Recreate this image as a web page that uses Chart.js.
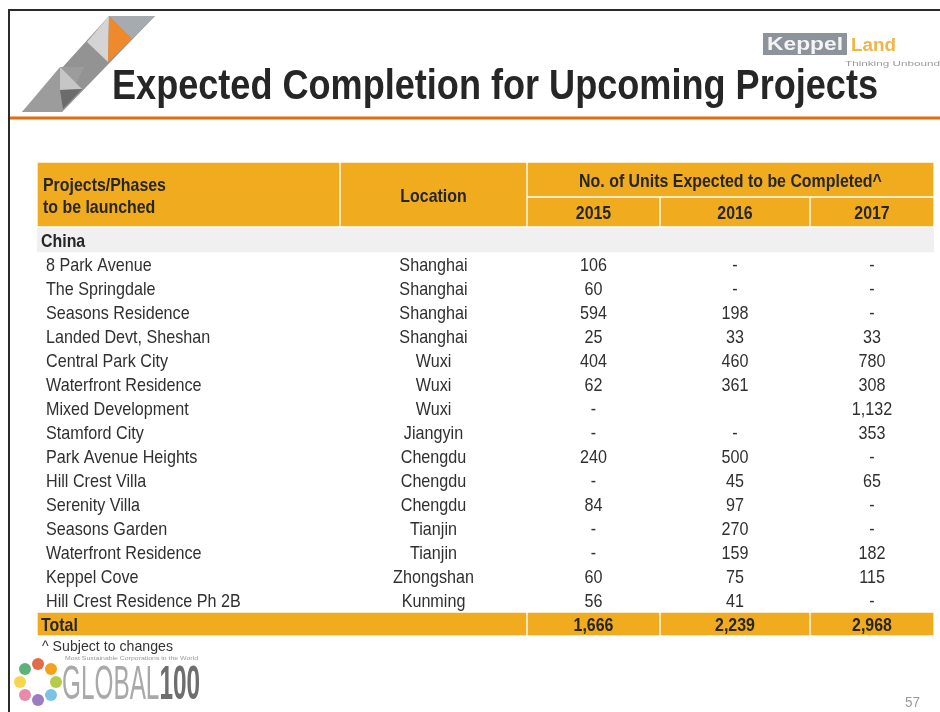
<!DOCTYPE html>
<html>
<head>
  <title>Expected Completion for Upcoming Projects</title>
  <!-- Chart.js draws the table: cells are floating bars, text is placed through the scales -->
  <script src="https://cdn.jsdelivr.net/npm/chart.js@4.4.0/dist/chart.umd.min.js"></script>
  <style>
    body { margin: 0; background: #fff; }
    #slide { position: relative; width: 940px; height: 712px; overflow: hidden; }
    #table { position: absolute; left: 0; top: 0; }
    #deco { position: absolute; left: 0; top: 0; pointer-events: none; }
    #deco text { font-family: "Liberation Sans", Arial, sans-serif; }
  </style>
</head>
<body>
<div id="slide">
  <canvas id="table" width="940" height="712"></canvas>
  <svg id="deco" width="940" height="712">
    <!-- slide frame -->
    <line x1="8" y1="10" x2="940" y2="10" stroke="#2b2b2b" stroke-width="2"/>
    <line x1="9" y1="10" x2="9" y2="712" stroke="#2b2b2b" stroke-width="2"/>
    <line x1="10" y1="118" x2="940" y2="118" stroke="#e46c0a" stroke-width="3"/>
    <!-- corner ornament -->
    <polygon points="109,16 155,16 62,112 22,112" fill="#939393"/>
    <polygon points="60,67 84,67 62,112 22,112" fill="#9c9c9c"/>
    <polygon points="109,16 155,16 132,39" fill="#a6abb0"/>
    <polygon points="109,16 108,62 87,42" fill="#d4d4d4"/>
    <polygon points="109,16 132,39 108,62" fill="#ee8a2c"/>
    <polygon points="60,67 82,89 60,90" fill="#c6c6c6"/>
    <polygon points="60,90 82,89 63,109" fill="#6c6c6c"/>
    <!-- title -->
    <text x="112" y="99" font-size="42" font-weight="bold" fill="#262626" textLength="766" lengthAdjust="spacingAndGlyphs">Expected Completion for Upcoming Projects</text>
    <!-- Keppel Land mark -->
    <rect x="763" y="33" width="84" height="22" fill="#8d939a"/>
    <text x="767" y="50" font-size="18" font-weight="bold" fill="#f4f4f4" textLength="76" lengthAdjust="spacingAndGlyphs">Keppel</text>
    <text x="851" y="51" font-size="18" font-weight="bold" fill="#efb646" textLength="45" lengthAdjust="spacingAndGlyphs">Land</text>
    <text x="845" y="66" font-size="7" fill="#9a9a9a" textLength="95" lengthAdjust="spacingAndGlyphs">Thinking Unbound</text>
    <!-- footnote and page number -->
    <text x="42" y="651" font-size="15" fill="#333" textLength="131" lengthAdjust="spacingAndGlyphs">^ Subject to changes</text>
    <text x="905" y="707" font-size="15" fill="#999" textLength="15" lengthAdjust="spacingAndGlyphs">57</text>
    <!-- Global 100 mark -->
    <circle cx="38" cy="664" r="6" fill="#e56a4a"/>
    <circle cx="51" cy="669" r="6" fill="#f4a11d"/>
    <circle cx="56" cy="682" r="6" fill="#b5cc48"/>
    <circle cx="51" cy="695" r="6" fill="#7cc3e6"/>
    <circle cx="38" cy="700" r="6" fill="#9b7cc0"/>
    <circle cx="25" cy="695" r="6" fill="#e88bab"/>
    <circle cx="20" cy="682" r="6" fill="#f7d64e"/>
    <circle cx="25" cy="669" r="6" fill="#5db27a"/>
    <text x="65" y="660" font-size="5" fill="#999" textLength="133" lengthAdjust="spacingAndGlyphs">Most Sustainable Corporations in the World</text>
    <text x="62" y="699" font-size="48" fill="#a9a9a9" textLength="138" lengthAdjust="spacingAndGlyphs">GLOBAL<tspan fill="#6e6e6e" font-weight="bold">100</tspan></text>
  </svg>
</div>
<script>
  // ---- data ----
  var headerLabels = ["Projects/Phases", "to be launched", "Location", "No. of Units Expected to be Completed^"];
  var years = ["2015", "2016", "2017"];
  var region = "China";
  var projects = ["8 Park Avenue", "The Springdale", "Seasons Residence", "Landed Devt, Sheshan",
    "Central Park City", "Waterfront Residence", "Mixed Development", "Stamford City",
    "Park Avenue Heights", "Hill Crest Villa", "Serenity Villa", "Seasons Garden",
    "Waterfront Residence", "Keppel Cove", "Hill Crest Residence Ph 2B"];
  var locations = ["Shanghai", "Shanghai", "Shanghai", "Shanghai", "Wuxi", "Wuxi", "Wuxi", "Jiangyin",
    "Chengdu", "Chengdu", "Chengdu", "Tianjin", "Tianjin", "Zhongshan", "Kunming"];
  // null = "-", "" = left blank on the slide
  var units2015 = [106, 60, 594, 25, 404, 62, null, null, 240, null, 84, null, null, 60, 56];
  var units2016 = [null, null, 198, 33, 460, 361, "", null, 500, 45, 97, 270, 159, 75, 41];
  var units2017 = [null, null, null, 33, 780, 308, 1132, 353, null, 65, null, null, 182, 115, null];
  var totalLabel = "Total";
  var totals = [1666, 2239, 2968];

  // ---- layout (scale units, 1 unit = 1 px) ----
  var colEdges = [0, 303, 490, 623, 773, 897];
  var headRow1 = 35, headRow2 = 30, rowH = 24;
  var regionTop = 66;
  var bodyTop = regionTop + rowH;
  var tableH = bodyTop + (projects.length + 1) * rowH;
  var textDrop = 2; // 'middle' baseline sits a little high for this face

  var orange = "#f0ab1f";
  var headColor = "#262626";
  var bodyColor = "#303030";
  var sans = '"Liberation Sans", Arial, sans-serif';

  function rowCenter(i) { return bodyTop + rowH * (i + 0.5); }
  function colCenter(c) { return (colEdges[c] + colEdges[c + 1]) / 2; }
  function fmt(v) {
    if (v === null) return "-";
    if (v === "") return "";
    return v.toLocaleString("en-US");
  }

  var cellStyle = { backgroundColor: orange, borderColor: "#fff", borderWidth: 1, borderSkipped: false };

  var datasets = [
    Object.assign({ label: "head-merged", barThickness: headRow1 + headRow2,
      data: [{ y: (headRow1 + headRow2) / 2, x: [colEdges[0], colEdges[1]] },
             { y: (headRow1 + headRow2) / 2, x: [colEdges[1], colEdges[2]] }] }, cellStyle),
    Object.assign({ label: "head-top", barThickness: headRow1,
      data: [{ y: headRow1 / 2, x: [colEdges[2], colEdges[5]] }] }, cellStyle),
    Object.assign({ label: "head-years", barThickness: headRow2,
      data: years.map(function (yr, k) { return { y: headRow1 + headRow2 / 2, x: [colEdges[2 + k], colEdges[3 + k]] }; }) }, cellStyle),
    { label: "region", barThickness: rowH, backgroundColor: "#f0f0f0", borderWidth: 0,
      data: [{ y: regionTop + rowH / 2, x: [colEdges[0], colEdges[5]] }] },
    Object.assign({ label: "total", barThickness: rowH,
      data: [{ y: rowCenter(projects.length), x: [colEdges[0], colEdges[2]] }].concat(
        totals.map(function (t, k) { return { y: rowCenter(projects.length), x: [colEdges[2 + k], colEdges[3 + k]] }; })) }, cellStyle)
  ];

  var tableText = {
    id: "tableText",
    afterDatasetsDraw: function (chart) {
      var ctx = chart.ctx, x = chart.scales.x, y = chart.scales.y;
      var squeeze = 1;
      // narrow face emulated by squeezing Liberation Sans horizontally
      function put(txt, ux, uy, align) {
        ctx.save();
        ctx.translate(x.getPixelForValue(ux), y.getPixelForValue(uy + textDrop));
        ctx.scale(squeeze, 1);
        ctx.textAlign = align || "center";
        ctx.fillText(txt, 0, 0);
        ctx.restore();
      }
      ctx.save();
      ctx.textBaseline = "middle";

      // header
      ctx.fillStyle = headColor;
      ctx.font = "bold 18.5px " + sans;
      squeeze = 0.86;
      put(headerLabels[0], 6, 22, "left");
      put(headerLabels[1], 6, 44, "left");
      put(headerLabels[2], colCenter(1), (headRow1 + headRow2) / 2);
      put(headerLabels[3], (colEdges[2] + colEdges[5]) / 2, headRow1 / 2);
      years.forEach(function (yr, k) { put(yr, colCenter(2 + k), headRow1 + headRow2 / 2); });

      // region row
      put(region, 4, regionTop + rowH / 2, "left");

      // body
      ctx.fillStyle = bodyColor;
      ctx.font = "19px " + sans;
      squeeze = 0.85;
      var cols = [units2015, units2016, units2017];
      projects.forEach(function (p, i) {
        put(p, 9, rowCenter(i), "left");
        put(locations[i], colCenter(1), rowCenter(i));
        cols.forEach(function (arr, k) { put(fmt(arr[i]), colCenter(2 + k), rowCenter(i)); });
      });

      // total
      ctx.fillStyle = headColor;
      ctx.font = "bold 18.5px " + sans;
      squeeze = 0.86;
      var ty = rowCenter(projects.length);
      put(totalLabel, 4, ty, "left");
      totals.forEach(function (t, k) { put(fmt(t), colCenter(2 + k), ty); });
      ctx.restore();
    }
  };

  new Chart(document.getElementById("table").getContext("2d"), {
    type: "bar",
    data: { datasets: datasets },
    options: {
      indexAxis: "y",
      responsive: false,
      animation: false,
      grouped: false,
      layout: { padding: { left: 37, right: 940 - 37 - colEdges[5], top: 162, bottom: 712 - 162 - tableH } },
      scales: {
        x: { type: "linear", min: colEdges[0], max: colEdges[5], offset: false, display: false },
        y: { type: "linear", min: 0, max: tableH, reverse: true, offset: false, display: false }
      },
      plugins: { legend: { display: false }, tooltip: { enabled: false } }
    },
    plugins: [tableText]
  });
</script>
</body>
</html>
